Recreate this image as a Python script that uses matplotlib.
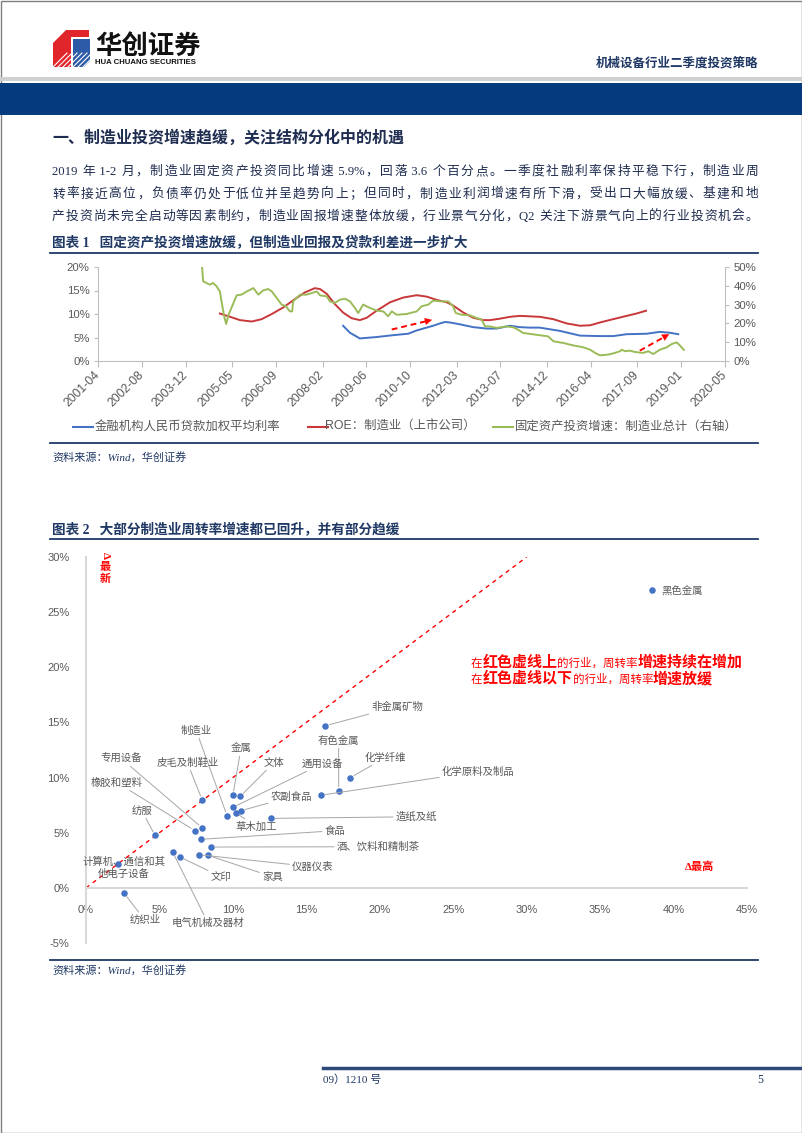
import re
import numpy as np
import matplotlib
matplotlib.use('Agg')
import matplotlib.pyplot as plt
from matplotlib.patches import Rectangle, Polygon

W, H = 802, 1133
NAVY = '#1F3864'
TXT = '#595959'
CJK = 'Noto Sans CJK SC'
SERIF = ['Liberation Serif', CJK]
SANS = ['Liberation Sans', CJK]
plt.rcParams['font.family'] = SANS

# ---- chart 1 data (decimal year, %) ----
tick_labels = ['2001-04', '2002-08', '2003-12', '2005-05', '2006-09', '2008-02',
               '2009-06', '2010-10', '2012-03', '2013-07', '2014-12', '2016-04',
               '2017-09', '2019-01', '2020-05']
series_names = ['金融机构人民币贷款加权平均利率', 'ROE：制造业（上市公司）',
                '固定资产投资增速：制造业总计（右轴）']

rate_t = [2008.71, 2008.92, 2009.22, 2009.73, 2010.24, 2010.69, 2010.95, 2011.25,
          2011.45, 2011.66, 2011.81, 2011.96, 2012.27, 2012.67, 2013.08, 2013.38,
          2013.79, 2014.09, 2014.40, 2014.70, 2015.31, 2015.92, 2016.53, 2016.93,
          2017.34, 2017.95, 2018.35, 2018.66, 2018.91]
rate_v = [7.5, 6.0, 4.8, 5.1, 5.5, 5.8, 6.5, 7.1, 7.5, 8.0, 8.3, 8.2, 7.8, 7.2,
          6.9, 6.9, 7.5, 7.2, 7.1, 7.1, 6.4, 5.4, 5.3, 5.3, 5.7, 5.8, 6.2, 6.0, 5.7]

roe_t = [2004.96, 2005.27, 2005.57, 2005.93, 2006.23, 2006.54, 2006.89, 2007.25,
         2007.55, 2007.85, 2008.01, 2008.21, 2008.46, 2008.71, 2008.97, 2009.22,
         2009.43, 2009.73, 2010.14, 2010.54, 2010.95, 2011.25, 2011.56, 2011.86,
         2012.06, 2012.37, 2012.67, 2012.98, 2013.18, 2013.48, 2013.79, 2014.09,
         2014.70, 2015.11, 2015.51, 2015.92, 2016.23, 2016.53, 2016.93, 2017.34,
         2017.64, 2017.93]
roe_v = [10.1, 9.4, 8.7, 8.4, 8.9, 10.0, 11.4, 13.2, 14.6, 15.5, 15.3, 14.3, 12.1,
         10.3, 9.1, 8.7, 9.2, 10.7, 12.5, 13.5, 14.0, 13.7, 13.0, 12.5, 11.8, 10.3,
         9.2, 8.7, 8.7, 9.0, 9.4, 9.6, 9.4, 8.9, 8.0, 7.5, 7.6, 8.2, 8.9, 9.6, 10.1, 10.7]

fai_t = [2004.42, 2004.45, 2004.55, 2004.65, 2004.75, 2004.86, 2004.96, 2005.01,
         2005.09, 2005.15, 2005.21, 2005.31, 2005.47, 2005.62, 2005.78, 2005.98,
         2006.13, 2006.28, 2006.43, 2006.54, 2006.69, 2006.84, 2006.97, 2007.09,
         2007.16, 2007.19, 2007.40, 2007.60, 2007.91, 2008.01, 2008.21, 2008.31,
         2008.46, 2008.61, 2008.77, 2008.92, 2009.07, 2009.17, 2009.32, 2009.53,
         2009.73, 2009.93, 2010.08, 2010.19, 2010.34, 2010.64, 2010.95, 2011.10,
         2011.30, 2011.45, 2011.71, 2011.91, 2012.06, 2012.14, 2012.32, 2012.57,
         2012.77, 2012.93, 2013.03, 2013.18, 2013.38, 2013.69, 2013.89, 2014.04,
         2014.19, 2014.40, 2014.70, 2014.95, 2015.11, 2015.41, 2015.71, 2016.02,
         2016.23, 2016.38, 2016.53, 2016.78, 2016.98, 2017.14, 2017.19, 2017.29,
         2017.44, 2017.59, 2017.84, 2018.00, 2018.15, 2018.35, 2018.56, 2018.71,
         2018.86, 2018.96, 2019.08]
fai_v = [49.5, 42.4, 41.5, 40.6, 41.5, 39.7, 37.0, 31.7, 23.8, 19.7, 23.8, 28.2,
         34.9, 35.3, 37.0, 38.8, 35.3, 37.6, 38.3, 37.0, 33.5, 30.0, 29.1, 26.4,
         26.4, 31.7, 35.3, 35.3, 37.0, 34.9, 34.4, 31.7, 30.9, 32.6, 33.1, 31.7,
         28.2, 25.5, 30.0, 28.2, 26.8, 26.4, 23.8, 26.4, 24.6, 25.0, 26.4, 29.1,
         30.0, 32.1, 31.7, 31.7, 29.1, 25.5, 24.6, 24.3, 22.9, 22.0, 18.4, 18.4,
         17.6, 18.4, 17.9, 16.6, 14.9, 14.4, 13.7, 13.1, 10.5, 9.6, 8.3, 7.3,
         6.0, 4.3, 3.0, 3.4, 4.3, 5.2, 6.0, 5.2, 5.5, 4.8, 4.3, 5.2, 3.7, 6.0,
         7.3, 9.0, 9.9, 8.3, 5.9]

# trend arrows (start, end) in (year, left-axis %)
arrows = [((2010.19, 6.7), (2011.50, 8.9)),
          ((2017.74, 2.2), (2018.71, 6.0))]

# ---- chart 2 data (%): x = Δ最高, y = Δ最新 ----
ind_names = ['黑色金属', '非金属矿物', '有色金属', '化学纤维', '化学原料及制品', '造纸及纸',
             '制造业', '金属', '文体', '通用设备', '农副食品', '草木加工', '皮毛及制鞋业',
             '专用设备', '橡胶和塑料', '食品', '酒、饮料和精制茶', '仪器仪表', '家具', '文印',
             '电气机械及器材', '纺服', '计算机、通信和其他电子设备', '纺织业']
ind_dmax = [38.5, 16.3, 17.2, 18.0, 16.0, 12.6, 9.6, 10.0, 10.5, 10.0, 10.55, 10.2,
            7.9, 7.9, 7.4, 7.8, 8.5, 7.7, 8.3, 6.4, 5.9, 4.7, 2.2, 2.6]
ind_dnew = [27.0, 14.7, 8.8, 10.0, 8.4, 6.3, 6.55, 8.4, 8.3, 7.3, 7.0, 6.8, 8.0,
            5.45, 5.2, 4.4, 3.7, 3.0, 2.95, 2.8, 3.25, 4.75, 2.2, -0.5]

# label placement (layout only)
lab_x = [39.2, 21.2, 17.2, 20.4, 26.7, 22.5, 7.5, 10.55, 12.8, 16.1, 14.0, 11.6,
         6.9, 2.4, 2.1, 16.95, 19.9, 15.45, 12.7, 9.2, 8.3, 3.8, 2.6, 4.0]
lab_y = [27.0, 16.45, 13.36, 11.82, 10.55, 6.45, 14.27, 12.64, 11.36, 11.27, 8.27,
         5.55, 11.36, 11.73, 9.55, 5.18, 3.73, 1.91, 1.0, 1.0, -3.18, 7.0, 1.82, -2.91]
no_leader = {'黑色金属', '计算机、通信和其他电子设备'}
wrapped = {'计算机、通信和其他电子设备': '计算机、通信和其\n他电子设备'}

paragraph = ['2019 年 1-2 月，制造业固定资产投资同比增速 5.9%，回落 3.6 个百分点。一季度社融利率保持平稳下行，制造业周',
             '转率接近高位，负债率仍处于低位并呈趋势向上；但同时，制造业利润增速有所下滑，受出口大幅放缓、基建和地',
             '产投资尚未完全启动等因素制约，制造业固报增速整体放缓，行业景气分化，Q2 关注下游景气向上的行业投资机会。']

fig = plt.figure(figsize=(W / 100, H / 100), dpi=100)
pg = fig.add_axes([0, 0, 1, 1], zorder=0)
pg.set_xlim(0, W)
pg.set_ylim(H, 0)
pg.axis('off')
rend = fig.canvas.get_renderer()


def justify(text, x0, x1, y, **kw):
    # ascii runs keep their surrounding spaces, CJK chars are spread evenly
    toks = re.findall(r' ?[A-Za-z0-9.%\-]+ ?|.', text)
    arts = [pg.text(0, y, s, va='baseline', ha='left', **kw) for s in toks]
    ws = [a.get_window_extent(rend).width for a in arts]
    gap = (x1 - x0 - sum(ws)) / (len(arts) - 1)
    x = x0
    for a, w in zip(arts, ws):
        a.set_x(x)
        x += w + gap


def runs(x, y, parts):
    for s, kw in parts:
        t = pg.text(x, y, s, va='baseline', ha='left', **kw)
        x += t.get_window_extent(rend).width


# ---- page frame / header ----
pg.add_patch(Rectangle((0.5, 0.5), W - 1, H - 1, fill=False, ec='#808080', lw=1))
pg.add_patch(Rectangle((0, 77), W, 4, color='#D0D0D0', lw=0))
pg.add_patch(Rectangle((0, 83), W, 32, color='#033B7C', lw=0))

pg.add_patch(Polygon([(53, 43), (66, 30), (89, 30), (89, 37), (71, 37), (71, 67), (53, 67)],
                     closed=True, color='#E0262B', lw=0))
pg.add_patch(Polygon([(73, 39), (90, 39), (90, 61), (84, 67), (73, 67)],
                     closed=True, color='#2E5BA8', lw=0))
for k in range(7):
    pg.plot([53 + k * 5, 53 + k * 5 + 14], [67, 53], color='white', lw=0.8)
pg.text(95, 46, '华创证券', fontsize=19, fontweight='bold', family=CJK, va='center',
        ha='left', color='#111111')
pg.text(95, 62, 'HUA CHUANG SECURITIES', fontsize=5.6, fontweight='bold', va='center',
        ha='left', color='#111111')
pg.text(758, 63, '机械设备行业二季度投资策略', fontsize=9, fontweight='bold', ha='right',
        va='center', color=NAVY, family=SERIF)

pg.text(52, 138, '一、制造业投资增速趋缓，关注结构分化中的机遇', fontsize=11.5,
        fontweight='bold', va='center', color='#1F2D50', family=CJK)
for i, line in enumerate(paragraph):
    justify(line, 52, 758, 175 + i * 22.5, fontsize=9.2, color='#1F2D50', family=SERIF)

pg.text(52, 243, '图表 1   固定资产投资增速放缓，但制造业回报及贷款利差进一步扩大',
        fontsize=9.8, fontweight='bold', va='center', color=NAVY, family=SERIF)
pg.text(52, 530, '图表 2   大部分制造业周转率增速都已回升，并有部分趋缓',
        fontsize=9.8, fontweight='bold', va='center', color=NAVY, family=SERIF)
for yy in (253, 443, 539, 960):
    pg.plot([50, 758], [yy, yy], color=NAVY, lw=1.3)
for yy in (457, 970):
    pg.text(52, yy, '资料来源：Wind，华创证券', fontsize=8, style='italic', va='center',
            color=NAVY, family=SERIF)

pg.plot([323, W], [1068, 1068], color='#2F4A78', lw=2.5)
pg.text(323, 1080, '09）1210 号', fontsize=8, va='center', color=NAVY, family=SERIF)
pg.text(757, 1080, '5', fontsize=8.5, va='center', color=NAVY, family=SERIF)

# ---- chart 1 ----
BLUE, RED, GREEN = '#4472C4', '#C8383A', '#9BBB59'
tick_pos = [int(s[:4]) + (int(s[5:]) - 1) / 12 for s in tick_labels]
ax1 = fig.add_axes([98 / W, 1 - 361 / H, 627 / W, 94 / H], zorder=1)
ax1.set_facecolor('none')
ax2 = ax1.twinx()
ax1.plot(roe_t, roe_v, color=RED, lw=1.4)
ax1.plot(rate_t, rate_v, color=BLUE, lw=1.4)
ax2.plot(fai_t, fai_v, color=GREEN, lw=1.4)
for (x0, y0), (x1, y1) in arrows:
    ax1.plot([x0, x0 + (x1 - x0) * 0.8], [y0, y0 + (y1 - y0) * 0.8], color='red',
             ls=(0, (3, 2)), lw=1.4)
    ax1.annotate('', xy=(x1, y1), xytext=(x0 + (x1 - x0) * 0.75, y0 + (y1 - y0) * 0.75),
                 arrowprops=dict(arrowstyle='-|>,head_width=0.25,head_length=0.5',
                                 color='red', lw=0.1))
ax1.set_xlim(tick_pos[0], tick_pos[-1])
ax1.set_ylim(0, 20)
ax2.set_ylim(0, 50)
ax1.set_xticks(tick_pos)
ax1.set_xticklabels(tick_labels, rotation=45, ha='right', va='center', rotation_mode='anchor')
ax1.set_yticks(np.arange(0, 21, 5))
ax1.set_yticklabels([f'{v}%' for v in range(0, 21, 5)])
ax2.set_yticks(np.arange(0, 51, 10))
ax2.set_yticklabels([f'{v}%' for v in range(0, 51, 10)])
for a in (ax1, ax2):
    for s in a.spines.values():
        s.set_color('#BFBFBF')
    a.spines['top'].set_visible(False)
ax1.spines['right'].set_visible(False)
ax2.spines['left'].set_visible(False)
ax2.spines['bottom'].set_visible(False)
ax1.tick_params(axis='x', length=4, color='#BFBFBF', labelsize=8.7, labelcolor=TXT, pad=5)
ax1.tick_params(axis='y', length=3, color='#BFBFBF', labelsize=8.2, labelcolor=TXT, pad=3)
ax2.tick_params(axis='y', length=3, color='#BFBFBF', labelsize=8.2, labelcolor=TXT, pad=3)

for (lx, tx), name, col in zip([(73, 95), (308, 325), (493, 515)], series_names,
                               [BLUE, RED, GREEN]):
    pg.plot([lx, lx + 20], [427, 427], color=col, lw=1.5)
    pg.text(tx, 427, name, fontsize=8.9, va='center', ha='left', color=TXT)

# ---- chart 2 ----
ax = fig.add_axes([86 / W, 1 - 943 / H, 661 / W, 386 / H], zorder=1)
ax.set_facecolor('none')
ax.set_xlim(0, 45)
ax.set_ylim(-5, 30)
ax.spines['left'].set_position(('data', 0))
ax.spines['bottom'].set_position(('data', 0))
for k in ('top', 'right'):
    ax.spines[k].set_visible(False)
for k in ('left', 'bottom'):
    ax.spines[k].set_color('#D9D9D9')
    ax.spines[k].set_linewidth(1.5)
ax.set_xticks(np.arange(0, 46, 5))
ax.set_xticklabels([f'{v}%' for v in range(0, 46, 5)])
ax.set_yticks(np.arange(-5, 31, 5))
ax.set_yticklabels([f'{v}%' for v in range(-5, 31, 5)])
ax.tick_params(length=0, labelsize=8, labelcolor=TXT)
ax.tick_params(axis='x', pad=12)
ax.tick_params(axis='y', pad=12)

diag = [0, 30]
ax.plot(diag, diag, color='red', ls=(0, (3, 3)), lw=1)
ax.scatter(ind_dmax, ind_dnew, s=22, color=BLUE, zorder=3, lw=0)
for name, x, y, lx, ly in zip(ind_names, ind_dmax, ind_dnew, lab_x, lab_y):
    txt = wrapped.get(name, name)
    if name == '黑色金属':
        ax.text(lx, ly, txt, fontsize=7.5, color=TXT, ha='left', va='center')
    elif name in no_leader:
        ax.text(lx, ly, txt, fontsize=7.5, color=TXT, ha='center', va='center',
                linespacing=1.3)
    else:
        ax.annotate(txt, (x, y), xytext=(lx, ly), textcoords='data', fontsize=7.5,
                    color=TXT, ha='center', va='center',
                    arrowprops=dict(arrowstyle='-', color='#A6A6A6', lw=0.7,
                                    shrinkA=0, shrinkB=3))

norm = dict(fontsize=8.3, color='red', family=CJK)
bold = dict(fontsize=10.8, color='red', family=CJK, fontweight='bold')
runs(471, 667, [('在', norm), ('红色虚线上', bold), ('的行业，周转率', norm),
                ('增速持续在增加', bold)])
runs(471, 683, [('在', norm), ('红色虚线以下', bold), ('的行业，周转率', norm),
                ('增速放缓', bold)])
red_b = dict(fontsize=8, color='red', fontweight='bold', family=SERIF)
pg.text(685, 867, 'Δ最高', va='center', ha='left', **red_b)
pg.text(105, 556, 'Δ', va='center', ha='center', rotation=-90, **red_b)
pg.text(105, 567, '最', va='center', ha='center', **red_b)
pg.text(105, 579, '新', va='center', ha='center', **red_b)

fig.savefig('out.png', dpi=100)
